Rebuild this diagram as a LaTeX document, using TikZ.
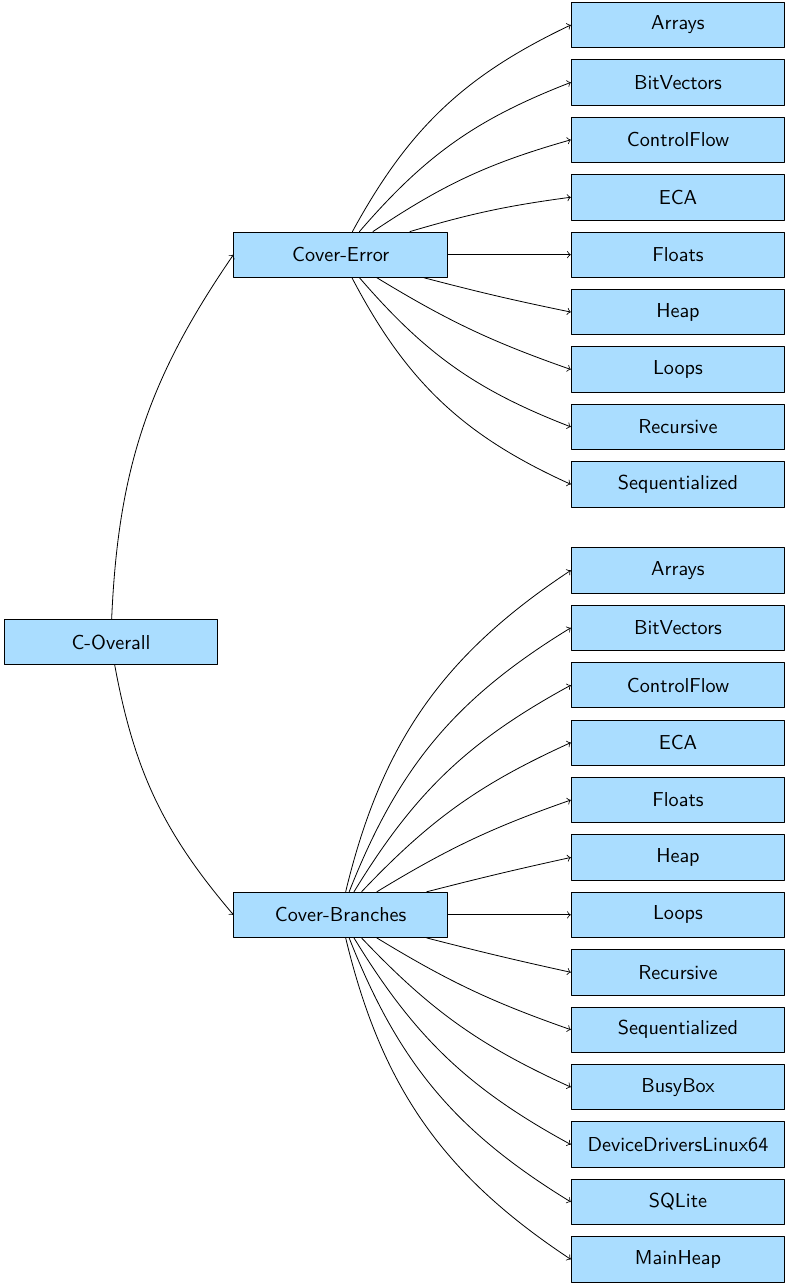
\documentclass[tikz,border=0pt]{standalone}
\definecolor{boxblue}{RGB}{170,221,255}

\begin{document}
\begin{tikzpicture}[>=to, line cap=round, line join=round,
    box/.style={draw, fill=boxblue, minimum width=3.72cm, minimum height=0.79cm,
      inner sep=0pt, font=\sffamily}]
  \useasboundingbox (-1.934,0.4355) rectangle (11.76,-21.93);
  % root and the two categories
  \node[box] (co) at (0,-10.75) {C-Overall};
  \node[box] (ce) at (4,-4) {Cover-Error};
  \node[box] (cb) at (4,-15.5) {Cover-Branches};
  % Cover-Error subcategories
  \node[box] (ce-arr) at (9.875,0) {Arrays};
  \node[box] (ce-bv) at (9.875,-1) {BitVectors};
  \node[box] (ce-cf) at (9.875,-2) {ControlFlow};
  \node[box] (ce-eca) at (9.875,-3) {ECA};
  \node[box] (ce-flt) at (9.875,-4) {Floats};
  \node[box] (ce-heap) at (9.875,-5) {Heap};
  \node[box] (ce-loop) at (9.875,-6) {Loops};
  \node[box] (ce-rec) at (9.875,-7) {Recursive};
  \node[box] (ce-seq) at (9.875,-8) {Sequentialized};
  % Cover-Branches subcategories
  \node[box] (cb-arr) at (9.875,-9.5) {Arrays};
  \node[box] (cb-bv) at (9.875,-10.5) {BitVectors};
  \node[box] (cb-cf) at (9.875,-11.5) {ControlFlow};
  \node[box] (cb-eca) at (9.875,-12.5) {ECA};
  \node[box] (cb-flt) at (9.875,-13.5) {Floats};
  \node[box] (cb-heap) at (9.875,-14.5) {Heap};
  \node[box] (cb-loop) at (9.875,-15.5) {Loops};
  \node[box] (cb-rec) at (9.875,-16.5) {Recursive};
  \node[box] (cb-seq) at (9.875,-17.5) {Sequentialized};
  \node[box] (cb-bb) at (9.875,-18.5) {BusyBox};
  \node[box] (cb-ddl) at (9.875,-19.5) {DeviceDriversLinux64};
  \node[box] (cb-sql) at (9.875,-20.5) {SQLite};
  \node[box] (cb-mh) at (9.875,-21.5) {MainHeap};
  % edges
  \draw[->] (co) to[bend left=16] (ce.west);
  \draw[->] (co) to[bend right=15] (cb.west);
  \draw[->] (ce) to[bend left=18] (ce-arr.west);
  \draw[->] (ce) to[bend left=14] (ce-bv.west);
  \draw[->] (ce) to[bend left=9] (ce-cf.west);
  \draw[->] (ce) to[bend left=4.4] (ce-eca.west);
  \draw[->] (ce) -- (ce-flt.west);
  \draw[->] (ce) to[bend right=1.5] (ce-heap.west);
  \draw[->] (ce) to[bend right=6] (ce-loop.west);
  \draw[->] (ce) to[bend right=14] (ce-rec.west);
  \draw[->] (ce) to[bend right=19] (ce-seq.west);
  \draw[->] (cb) to[bend left=21.5] (cb-arr.west);
  \draw[->] (cb) to[bend left=18.5] (cb-bv.west);
  \draw[->] (cb) to[bend left=15] (cb-cf.west);
  \draw[->] (cb) to[bend left=11] (cb-eca.west);
  \draw[->] (cb) to[bend left=6] (cb-flt.west);
  \draw[->] (cb) to[bend left=1] (cb-heap.west);
  \draw[->] (cb) -- (cb-loop.west);
  \draw[->] (cb) to[bend right=1] (cb-rec.west);
  \draw[->] (cb) to[bend right=6] (cb-seq.west);
  \draw[->] (cb) to[bend right=11] (cb-bb.west);
  \draw[->] (cb) to[bend right=15] (cb-ddl.west);
  \draw[->] (cb) to[bend right=18.5] (cb-sql.west);
  \draw[->] (cb) to[bend right=21.5] (cb-mh.west);
\end{tikzpicture}
\end{document}
